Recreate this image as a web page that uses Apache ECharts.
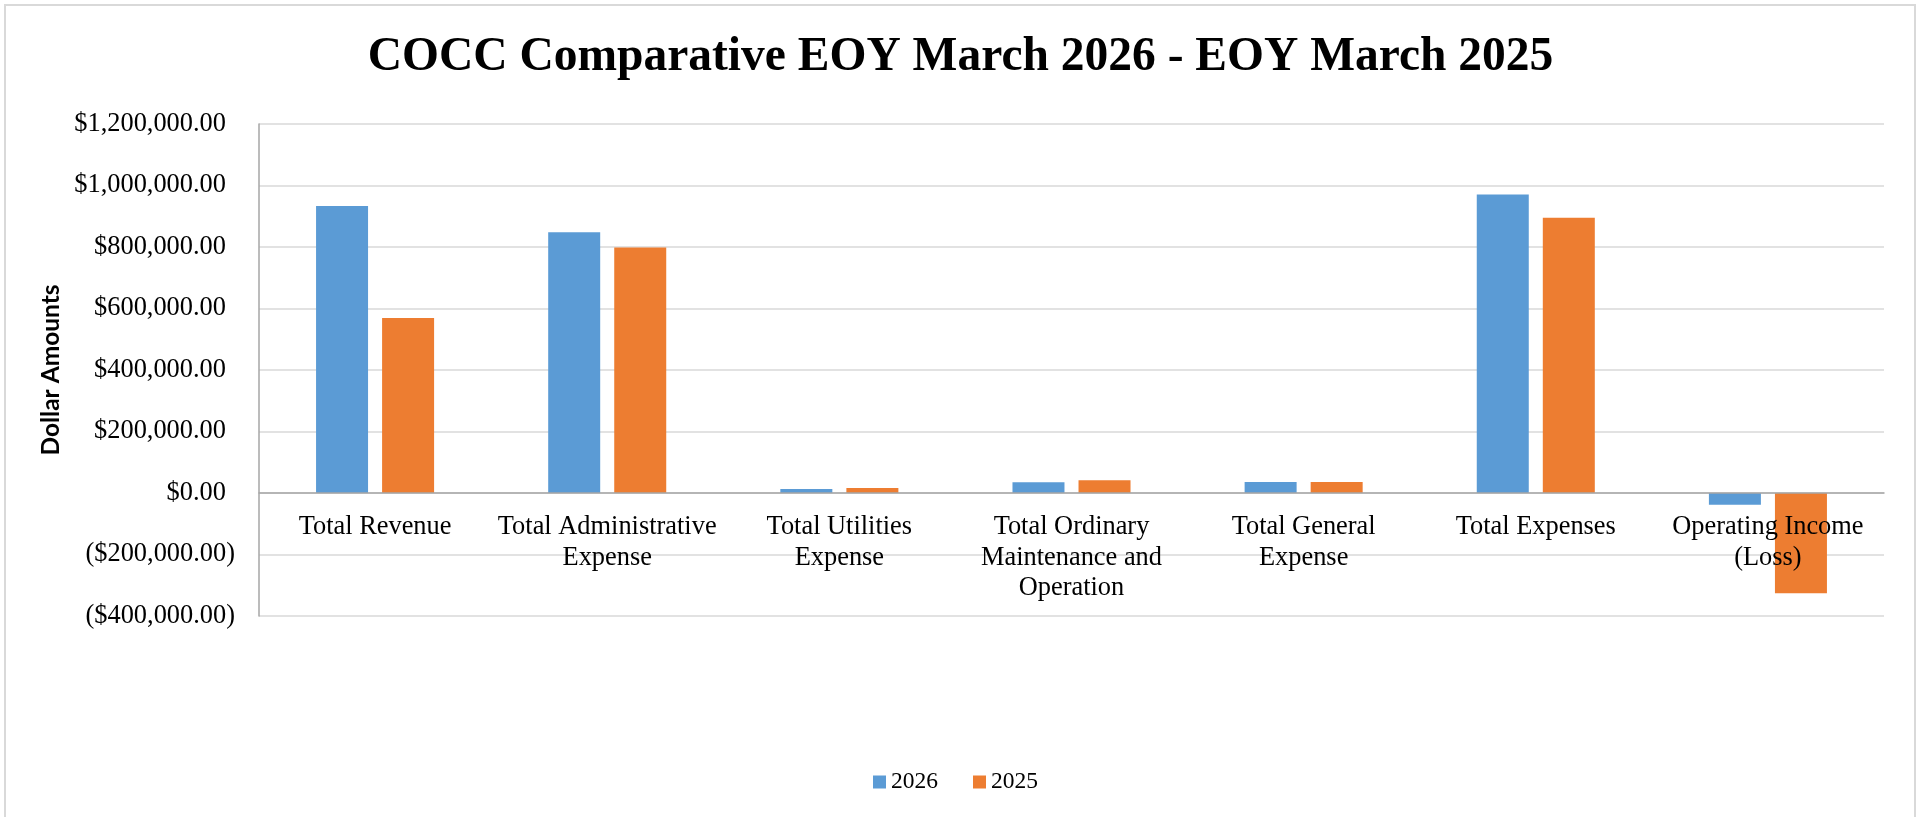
<!DOCTYPE html>
<html>
<head>
<meta charset="utf-8">
<script src="https://cdn.jsdelivr.net/npm/echarts@6/dist/echarts.min.js"></script>
<style>
html,body{margin:0;padding:0;background:#fff;}
#chart{width:1921px;height:817px;}
</style>
</head>
<body>
<div id="chart"></div>
<script>
const titleText = 'COCC Comparative EOY March 2026 - EOY March 2025';
const categories = ['Total Revenue', 'Total Administrative\nExpense', 'Total Utilities\nExpense', 'Total Ordinary\nMaintenance and\nOperation', 'Total General\nExpense', 'Total Expenses', 'Operating Income\n(Loss)'];
const seriesNames = ['2026', '2025'];
const values2026 = [933000, 848000, 13000, 34800, 35800, 971000, -38000];
const values2025 = [569000, 798000, 16300, 41300, 35500, 895000, -326000];
const yTicks = {min: -400000, max: 1200000, interval: 200000};
const yAxisTitle = 'Dollar Amounts';

function fmtMoney(v) {
  const a = Math.abs(v).toLocaleString('en-US', {minimumFractionDigits: 2, maximumFractionDigits: 2});
  return v < 0 ? '{n|($' + a + ')}' : '{p|$' + a + '}';
}

const serif = 'Liberation Serif';
const chart = echarts.init(document.getElementById('chart'));
chart.setOption({
  animation: false,
  backgroundColor: '#fff',
  title: {
    text: titleText,
    left: 'center',
    top: 34,
    padding: 0,
    textStyle: {fontFamily: serif, fontWeight: 'bold', fontSize: 47.5, color: '#000'}
  },
  legend: {
    data: seriesNames,
    left: 873,
    top: 770,
    padding: 0,
    icon: 'rect',
    itemWidth: 13,
    itemHeight: 13,
    itemGap: 35,
    textStyle: {fontFamily: serif, fontSize: 23.5, color: '#000'}
  },
  grid: {left: 259, right: 37, top: 124, bottom: 201, containLabel: false},
  xAxis: {
    type: 'category',
    data: categories,
    z: 5,
    axisLine: {show: true, onZero: true, lineStyle: {color: '#A6A6A6', width: 1.5}},
    axisTick: {show: false},
    axisLabel: {interval: 0, margin: -104, fontFamily: serif, fontSize: 26.4, lineHeight: 30.4, color: '#000'},
    splitLine: {show: false}
  },
  yAxis: {
    type: 'value',
    min: yTicks.min,
    max: yTicks.max,
    interval: yTicks.interval,
    name: yAxisTitle,
    nameLocation: 'middle',
    nameRotate: 90,
    nameGap: 186,
    nameTextStyle: {fontFamily: 'Lato', fontWeight: 'bold', fontSize: 24.5, color: '#000'},
    axisLine: {show: true, lineStyle: {color: '#A6A6A6', width: 1.5}},
    axisTick: {show: false},
    axisLabel: {
      margin: 24,
      formatter: fmtMoney,
      rich: {
        p: {fontFamily: serif, fontSize: 26.4, color: '#000', padding: [0, 9, 0, 0]},
        n: {fontFamily: serif, fontSize: 26.4, color: '#000'}
      }
    },
    splitLine: {show: true, lineStyle: {color: '#D9D9D9', width: 1.5}}
  },
  series: [
    {name: seriesNames[0], type: 'bar', data: values2026, barWidth: '22.4%', barGap: '27%', itemStyle: {color: '#5B9BD5'}},
    {name: seriesNames[1], type: 'bar', data: values2025, barWidth: '22.4%', barGap: '27%', itemStyle: {color: '#ED7D31'}}
  ],
  graphic: [{
    type: 'rect', silent: true, z: -1,
    shape: {x: 5, y: 5, width: 1910, height: 840},
    style: {fill: 'none', stroke: '#D9D9D9', lineWidth: 2}
  }]
});
</script>
</body>
</html>
